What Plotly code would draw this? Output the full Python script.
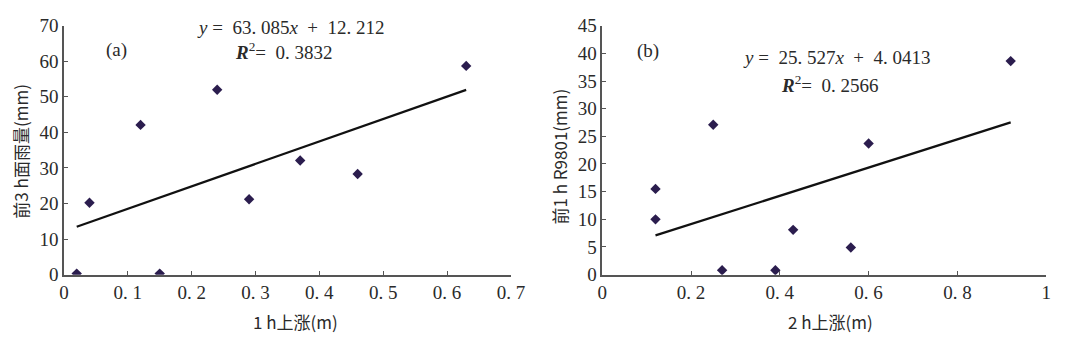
import plotly.graph_objects as go

# Panel (a)
xa = [0.02, 0.04, 0.12, 0.15, 0.24, 0.29, 0.37, 0.46, 0.63]
ya = [0.3, 20.2, 42.1, 0.3, 52.0, 21.2, 32.1, 28.3, 58.7]
slope_a, icpt_a = 63.085, 12.212
# Panel (b)
xb = [0.12, 0.12, 0.25, 0.27, 0.39, 0.43, 0.56, 0.60, 0.92]
yb = [15.5, 10.0, 27.1, 0.8, 0.8, 8.1, 4.9, 23.7, 38.6]
slope_b, icpt_b = 25.527, 4.0413

xticks_a = [0, 0.1, 0.2, 0.3, 0.4, 0.5, 0.6, 0.7]
xticktext_a = ["0", "0. 1", "0. 2", "0. 3", "0. 4", "0. 5", "0. 6", "0. 7"]
yticks_a = [0, 10, 20, 30, 40, 50, 60, 70]
xticks_b = [0, 0.2, 0.4, 0.6, 0.8, 1.0]
xticktext_b = ["0", "0. 2", "0. 4", "0. 6", "0. 8", "1"]
yticks_b = [0, 5, 10, 15, 20, 25, 30, 35, 40, 45]

MARK = "#2b1d4e"
AX = "#555555"
SERIF = "Liberation Serif, DejaVu Serif, serif"
CJK = "Noto Sans CJK SC, sans-serif"
TXT = "#2a2a2a"

fig = go.Figure()
fig.add_trace(go.Scatter(x=xa, y=ya, mode="markers", xaxis="x", yaxis="y",
                         marker=dict(symbol="diamond", size=8, color=MARK), showlegend=False))
fa = [min(xa), max(xa)]
fig.add_trace(go.Scatter(x=fa, y=[slope_a * v + icpt_a for v in fa], mode="lines",
                         xaxis="x", yaxis="y", line=dict(color="#111111", width=2.2), showlegend=False))
fig.add_trace(go.Scatter(x=xb, y=yb, mode="markers", xaxis="x2", yaxis="y2",
                         marker=dict(symbol="diamond", size=8, color=MARK), showlegend=False))
fb = [min(xb), max(xb)]
fig.add_trace(go.Scatter(x=fb, y=[slope_b * v + icpt_b for v in fb], mode="lines",
                         xaxis="x2", yaxis="y2", line=dict(color="#111111", width=2.2), showlegend=False))

axcommon = dict(showgrid=False, zeroline=False, showline=True, linecolor=AX, linewidth=1.5,
                ticks="inside", ticklen=4, tickcolor=AX, tickwidth=1.2,
                tickfont=dict(family=SERIF, size=19, color=TXT))
ydom = [1 - 281.7 / 347, 1 - 16.7 / 347]
fig.update_layout(
    width=1072, height=347, margin=dict(l=0, r=0, t=0, b=0),
    paper_bgcolor="white", plot_bgcolor="white",
    xaxis=dict(domain=[60 / 1072, 515 / 1072], range=[0, 0.7], tickvals=xticks_a,
               ticktext=xticktext_a, anchor="y", **axcommon),
    yaxis=dict(domain=ydom, range=[0, 70], tickvals=yticks_a, anchor="x", **axcommon),
    xaxis2=dict(domain=[608 / 1072, 1060 / 1072], range=[0, 1], tickvals=xticks_b,
                ticktext=xticktext_b, anchor="y2", **axcommon),
    yaxis2=dict(domain=ydom, range=[0, 45], tickvals=yticks_b, anchor="x2", **axcommon),
)

tf = dict(family=SERIF, size=19, color=TXT)
sp = "&nbsp;"
ann = [
    dict(x=0.083, y=63.3, xref="x", yref="y", text="(a)", font=tf),
    dict(x=0.355, y=69.4, xref="x", yref="y",
         text=f"<i>y</i>{sp}={sp}{sp}63. 085<i>x</i>{sp}{sp}+{sp}{sp}12. 212", font=tf),
    dict(x=0.345, y=62.8, xref="x", yref="y", text=f"<b><i>R</i></b><sup>2</sup>={sp}{sp}0. 3832", font=tf),
    dict(x=0.104, y=40.5, xref="x2", yref="y2", text="(b)", font=tf),
    dict(x=0.529, y=39.3, xref="x2", yref="y2",
         text=f"<i>y</i>{sp}={sp}{sp}25. 527<i>x</i>{sp}{sp}+{sp}{sp}4. 0413", font=tf),
    dict(x=0.513, y=34.4, xref="x2", yref="y2", text=f"<b><i>R</i></b><sup>2</sup>={sp}{sp}0. 2566", font=tf),
    dict(x=296 / 1072, y=1 - 332 / 347, xref="paper", yref="paper", text="1 h上涨(m)",
         font=dict(family=CJK, size=17, color=TXT)),
    dict(x=840 / 1072, y=1 - 332 / 347, xref="paper", yref="paper", text="2 h上涨(m)",
         font=dict(family=CJK, size=17, color=TXT)),
    dict(x=16 / 1072, y=1 - 150 / 347, xref="paper", yref="paper", text="前3 h面雨量(mm)",
         textangle=-90, font=dict(family=CJK, size=17, color=TXT)),
    dict(x=565 / 1072, y=1 - 156 / 347, xref="paper", yref="paper", text="前1 h R9801(mm)",
         textangle=-90, font=dict(family=CJK, size=17, color=TXT)),
]
for a in ann:
    a.update(showarrow=False, xanchor="center", yanchor="middle")
fig.update_layout(annotations=ann)

fig.write_html("out.html")
